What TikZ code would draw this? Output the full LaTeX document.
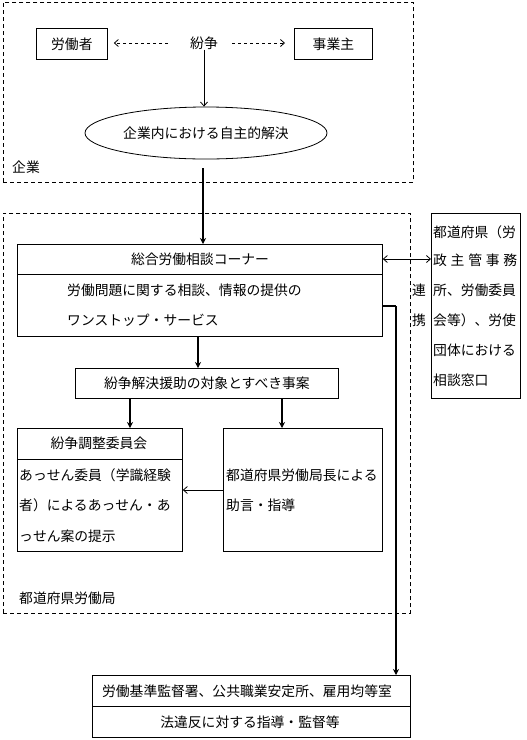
\documentclass[tikz,border=0pt]{standalone}
\usepackage{fontspec}
\setmainfont{Noto Sans CJK JP}
\usetikzlibrary{shapes.geometric,arrows.meta}
\begin{document}
\begin{tikzpicture}[x=1pt,y=-1pt,
  font=\fontsize{13.8}{16}\selectfont,
  box/.style={draw, line width=0.8pt, inner sep=0pt, anchor=north west},
  region/.style={draw, dash pattern=on 4pt off 3pt, line width=0.8pt, inner sep=0pt, anchor=north west},
  txtw/.style={inner sep=0pt, anchor=west},
  txtc/.style={inner sep=0pt},
  thinarr/.style={line width=0.8pt, -{Straight Barb[length=4pt,width=7pt]}},
  dblarr/.style={line width=0.8pt, {Straight Barb[length=4pt,width=7pt]}-{Straight Barb[length=4pt,width=7pt]}},
  thickarr/.style={line width=1.8pt, -{Stealth[length=6pt,width=6pt]}},
  dasharr/.style={line width=0.8pt, dash pattern=on 3pt off 3pt, -{Straight Barb[length=4pt,width=7pt]}},
  divline/.style={line width=0.8pt}]
\useasboundingbox (0,0) rectangle (527,740);

% regions
\node[region, minimum width=410pt, minimum height=180pt] (kigyo) at (3,2) {};
\node[region, minimum width=407pt, minimum height=400pt] (kyoku) at (3,213) {};
\node[txtw] (kigyolbl) at (12,167) {企業};
\node[txtw] (kyokulbl) at (19,598) {都道府県労働局};

% top part
\node[box, minimum width=71pt, minimum height=31pt] (worker) at (36,28) {};
\node[txtc] (workertxt) at (worker.center) {労働者};
\node[box, minimum width=78pt, minimum height=31pt] (employer) at (294,28) {};
\node[txtc] (employertxt) at (employer.center) {事業主};
\node[txtc] (funsotxt) at (204,43) {紛争};
\node[draw, ellipse, line width=0.8pt, minimum width=242pt, minimum height=52pt, inner sep=0pt] (jishu) at (206,133) {};
\node[txtc] (jishutxt) at (jishu.center) {企業内における自主的解決};

\draw[dasharr, shorten <=22pt, shorten >=6pt] (funsotxt.west) -- (worker.east |- funsotxt.west);
\draw[dasharr, shorten <=14pt, shorten >=9pt] (funsotxt.east) -- (employer.west |- funsotxt.east);
\draw[thinarr] (funsotxt.south) -- (funsotxt.south |- jishu.north);

% sogo
\node[box, minimum width=365pt, minimum height=92pt] (sogo) at (17,244) {};
\draw[divline] (sogo.west |- 0,274) -- (sogo.east |- 0,274);
\node[txtc] (sogotitle) at (200,259) {総合労働相談コーナー};
\node[txtw] (sogol1) at (67,290) {労働問題に関する相談、情報の提供の};
\node[txtw] (sogol2) at (67,320) {ワンストップ・サービス};

\coordinate (c1) at (203,168);
\draw[thickarr] (c1) -- (c1 |- sogo.north);

% right box
\node[box, minimum width=89pt, minimum height=185pt] (madoguchi) at (431,213) {};
\node[txtw] (m1) at (433,232) {都道府県（労};
\node[txtw] (m2) at (433,260) {\makebox[84pt][s]{政\hfill 主\hfill 管\hfill 事\hfill 務}};
\node[txtw] (m3) at (433,290) {所、労働委員};
\node[txtw] (m4) at (433,320) {会等）、労使};
\node[txtw] (m5) at (433,350) {団体における};
\node[txtw] (m6) at (433,380) {相談窓口};
\node[txtc] (ren) at (419,290) {連};
\node[txtc] (kei) at (419,320) {携};
\draw[dblarr] (sogo.east |- 0,259) -- (madoguchi.west |- 0,259);

% funso kaiketsu
\node[box, minimum width=263pt, minimum height=30pt] (funso) at (75,368) {};
\node[txtc] (funsotitle) at (funso.center) {紛争解決援助の対象とすべき事案};
\draw[thickarr] (198,336) -- (198,368);

% chosei
\node[box, minimum width=165pt, minimum height=123pt] (chosei) at (17,428) {};
\draw[divline] (chosei.west |- 0,459) -- (chosei.east |- 0,459);
\node[txtc] (choseititle) at (99,443) {紛争調整委員会};
\node[txtw] (c1l) at (19,475) {あっせん委員（学識経験};
\node[txtw] (c2l) at (19,505) {者）によるあっせん・あ};
\node[txtw] (c3l) at (19,536) {っせん案の提示};

% kyokucho
\node[box, minimum width=159pt, minimum height=123pt] (kyokucho) at (223,428) {};
\node[txtw] (k1l) at (226,475) {都道府県労働局長による};
\node[txtw] (k2l) at (226,505) {助言・指導};

\coordinate (a1) at (130,398);
\coordinate (a2) at (282,398);
\draw[thickarr] (a1) -- (a1 |- chosei.north);
\draw[thickarr] (a2) -- (a2 |- kyokucho.north);
\draw[thinarr] (kyokucho.west |- 0,490) -- (chosei.east |- 0,490);

% bottom
\node[box, minimum width=318pt, minimum height=62pt] (kantoku) at (92,675) {};
\draw[divline] (kantoku.west |- 0,706) -- (kantoku.east |- 0,706);
\node[txtc] (b1) at (247,691) {労働基準監督署、公共職業安定所、雇用均等室};
\node[txtc] (b2) at (250,722) {法違反に対する指導・監督等};

\coordinate (bend) at (396,306);
\draw[line width=1.8pt] (sogo.east |- bend) -- (bend);
\draw[thickarr] (bend) -- (bend |- kantoku.north);
\end{tikzpicture}
\end{document}
